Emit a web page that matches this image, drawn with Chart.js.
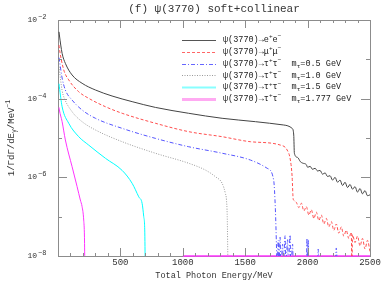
<!DOCTYPE html>
<html>
<head>
<meta charset="utf-8">
<script src="https://cdn.jsdelivr.net/npm/chart.js@4"></script>
<style>
  body { margin: 0; background: #fff; }
</style>
</head>
<body>
<canvas id="c" width="382" height="283"></canvas>
<script>
// photon energy (MeV) and 1/Γ dΓ/dE (MeV^-1)
var eeE = [8, 11, 33, 59, 113, 193, 300, 433, 594, 780, 1047, 1315, 1582, 1809, 1876, 1889, 1894, 1920, 1942, 1960, 1990, 2000, 2020, 2040, 2060, 2080, 2100, 2120, 2140, 2160, 2180, 2200, 2220, 2240, 2260, 2280, 2300, 2320, 2340, 2360, 2380, 2400, 2420, 2440, 2460, 2480, 2500];
var eeV = [5.0e-3, 4.16e-3, 1.42e-3, 7.9e-4, 4.0e-4, 2.46e-4, 1.66e-4, 1.17e-4, 8.4e-5, 6.0e-5, 4.25e-5, 3.17e-5, 2.6e-5, 2.14e-5, 1.76e-5, 1.19e-5, 4.1e-6, 3.2e-6, 2.5e-6, 2.3e-6, 2.1e-6, 1.8e-6, 1.9e-6, 1.6e-6, 1.7e-6, 1.45e-6, 1.5e-6, 1.2e-6, 1.3e-6, 1.05e-6, 1.1e-6, 8.5e-7, 1.0e-6, 7.5e-7, 8.5e-7, 6.2e-7, 7.5e-7, 5.5e-7, 6.6e-7, 5.0e-7, 5.8e-7, 4.2e-7, 5.2e-7, 3.8e-7, 4.6e-7, 3.4e-7, 3.6e-7];

var mmE = [8, 11, 46, 86, 166, 246, 380, 514, 780, 1047, 1315, 1542, 1782, 1836, 1862, 1876, 1884, 1890, 1910, 1930, 1950, 1970, 1990, 2010, 2030, 2050, 2070, 2090, 2110, 2130, 2150, 2170, 2190, 2210, 2230, 2250, 2270, 2290, 2310, 2330, 2350, 2355, 2360, 2380, 2400, 2420, 2440, 2460, 2480, 2500];
var mmV = [2.3e-3, 1.9e-3, 5.4e-4, 3.0e-4, 1.5e-4, 1.02e-4, 6.25e-5, 4.25e-5, 2.37e-5, 1.45e-5, 1.08e-5, 8.05e-6, 6.6e-6, 4.95e-6, 2.75e-6, 1.04e-6, 2.9e-7, 2.6e-7, 2.3e-7, 1.7e-7, 2.2e-7, 1.4e-7, 1.8e-7, 1.1e-7, 1.5e-7, 9e-8, 1.3e-7, 8e-8, 1.1e-7, 6.5e-8, 9e-8, 5.5e-8, 7.5e-8, 4.5e-8, 6.5e-8, 3.8e-8, 5.5e-8, 3.2e-8, 4.5e-8, 2.8e-8, 4e-8, 5e-9, 3.5e-8, 2.2e-8, 3.2e-8, 1.8e-8, 2.8e-8, 1.5e-8, 2.5e-8, 1.3e-8];

var t05E = [8, 11, 33, 59, 113, 193, 300, 514, 780, 1047, 1315, 1542, 1676, 1728, 1742, 1750, 1755, 1765, 1770, 1780, 1785, 1800, 1805, 1820, 1825, 1840, 1845, 1860, 1865, 1880, 1885, 1990, 1995, 2000, 2005, 2010, 2080, 2085, 2090, 2220, 2230, 2240, 2500];
var t05V = [1.1e-3, 9.6e-4, 3.35e-4, 1.66e-4, 9.2e-5, 5.15e-5, 3.17e-5, 1.76e-5, 9.8e-6, 6.0e-6, 4.1e-6, 2.75e-6, 1.7e-6, 8.55e-7, 1.48e-7, 2.1e-8, 5e-9, 2.5e-8, 5e-9, 3e-8, 5e-9, 2e-8, 5e-9, 3.3e-8, 5e-9, 2.6e-8, 5e-9, 3.4e-8, 5e-9, 2e-8, 5e-9, 5e-9, 2.8e-8, 5e-9, 2.6e-8, 5e-9, 5e-9, 1.5e-8, 5e-9, 5e-9, 1.6e-8, 5e-9, 5e-9];

var t10E = [8, 11, 33, 46, 113, 193, 300, 514, 780, 1047, 1181, 1261, 1315, 1341, 1350, 1356, 1362];
var t10V = [6.5e-4, 5.4e-4, 1.6e-4, 1.12e-4, 4.65e-5, 2.6e-5, 1.6e-5, 8.05e-6, 4.1e-6, 2.28e-6, 1.53e-6, 1.04e-6, 7.05e-7, 3.9e-7, 2.65e-7, 1.0e-7, 5e-9];

var t15E = [8, 11, 33, 86, 166, 246, 380, 514, 594, 647, 674, 687, 695, 699];
var t15V = [2.4e-4, 2.0e-4, 6.25e-5, 2.37e-5, 1.08e-5, 6.6e-6, 3.05e-6, 1.5e-6, 7.05e-7, 3.2e-7, 2.18e-7, 1.0e-7, 4.6e-8, 5e-9];

var t17E = [8, 11, 33, 59, 113, 153, 179, 193, 206, 212, 215];
var t17V = [6e-5, 5.15e-5, 2.6e-5, 8.9e-6, 1.86e-6, 5.8e-7, 2.65e-7, 1.8e-7, 8.2e-8, 3e-8, 5e-9];
var t17tailE = [1000, 2500];
var t17tailV = [1e-8, 1e-8];

var xTicks = [500, 1000, 1500, 2000, 2500];
var yTickExp = [-2, -4, -6, -8];

var legendRows = [
  [['ψ(3770)→e', 0], ['+', 1], ['e', 0], ['−', 1]],
  [['ψ(3770)→μ', 0], ['+', 1], ['μ', 0], ['−', 1]],
  [['ψ(3770)→τ', 0], ['+', 1], ['τ', 0], ['−', 1], ['  m', 0], ['τ', -1], ['=0.5 GeV', 0]],
  [['ψ(3770)→τ', 0], ['+', 1], ['τ', 0], ['−', 1], ['  m', 0], ['τ', -1], ['=1.0 GeV', 0]],
  [['ψ(3770)→τ', 0], ['+', 1], ['τ', 0], ['−', 1], ['  m', 0], ['τ', -1], ['=1.5 GeV', 0]],
  [['ψ(3770)→τ', 0], ['+', 1], ['τ', 0], ['−', 1], ['  m', 0], ['τ', -1], ['=1.777 GeV', 0]]
];

function pts(xs, ys) {
  return xs.map(function (x, i) { return { x: x, y: ys[i] }; });
}

var FONT = '"Liberation Mono", "DejaVu Sans Mono", monospace';

var styles = [
  { c: '#444444', dash: [], lw: 1, lc: '#555555', llw: 1 },
  { c: '#ff4d4d', dash: [3, 2], lw: 1, lc: '#ff6666', llw: 1 },
  { c: '#5555ff', dash: [4, 2, 1, 2], lw: 1, lc: '#6666ff', llw: 1 },
  { c: '#9a9a9a', dash: [1, 1.5], lw: 1, lc: '#999999', llw: 1 },
  { c: '#00ffff', dash: [], lw: 1, lc: '#88ffff', llw: 2 },
  { c: '#ff33ff', dash: [], lw: 1, lc: '#ffaaf2', llw: 3 }
];

function rich(ctx, parts, x, y, size, align) {
  var w = 0;
  parts.forEach(function (p) {
    ctx.font = (p[1] ? size * 0.72 : size) + 'px ' + FONT;
    w += ctx.measureText(p[0]).width;
  });
  var cx = align === 'center' ? x - w / 2 : x;
  ctx.textAlign = 'left';
  ctx.textBaseline = 'middle';
  parts.forEach(function (p) {
    var s = p[1] ? size * 0.72 : size;
    ctx.font = s + 'px ' + FONT;
    var dy = p[1] === 1 ? -size * 0.38 : (p[1] === -1 ? size * 0.3 : 0);
    ctx.fillText(p[0], cx, y + dy);
    cx += ctx.measureText(p[0]).width;
  });
}

var framePlugin = {
  id: 'frame',
  beforeDatasetsDraw: function (chart) {
    var ctx = chart.ctx, a = chart.chartArea;
    ctx.save();
    ctx.strokeStyle = '#8c8c8c';
    ctx.lineWidth = 1;
    ctx.strokeRect(Math.round(a.left) + 0.5, Math.round(a.top) + 0.5, Math.round(a.right - a.left), Math.round(a.bottom - a.top));
    ctx.restore();
  },
  afterDraw: function (chart) {
    var ctx = chart.ctx, a = chart.chartArea;
    var xs = chart.scales.x, ys = chart.scales.y;
    ctx.save();
    ctx.strokeStyle = '#8c8c8c';
    ctx.lineWidth = 1;
    ctx.beginPath();
    for (var v = 100; v < 2500; v += 100) {
      var px = Math.round(xs.getPixelForValue(v)) + 0.5;
      var len = v % 500 === 0 ? 8 : 3;
      ctx.moveTo(px, a.bottom); ctx.lineTo(px, a.bottom - len);
      ctx.moveTo(px, a.top); ctx.lineTo(px, a.top + len);
    }
    for (var k = -7; k <= -3; k++) {
      var py = Math.round(ys.getPixelForValue(Math.pow(10, k))) + 0.5;
      var l = k % 2 === 0 ? 9 : 4;
      ctx.moveTo(a.left, py); ctx.lineTo(a.left + l, py);
      ctx.moveTo(a.right, py); ctx.lineTo(a.right - l, py);
    }
    ctx.stroke();

    ctx.fillStyle = '#333';
    ctx.font = '9px ' + FONT;
    ctx.textAlign = 'center';
    ctx.textBaseline = 'middle';
    xTicks.forEach(function (t) {
      ctx.fillText(String(t), xs.getPixelForValue(t), a.bottom + 7);
    });
    yTickExp.forEach(function (e) {
      var py = ys.getPixelForValue(Math.pow(10, e));
      ctx.font = '8px ' + FONT;
      ctx.textAlign = 'right';
      ctx.fillText('10', 37, py);
      ctx.font = '7px ' + FONT;
      ctx.textAlign = 'left';
      ctx.fillText('−' + (-e), 38, py - 3);
    });

    // title and axis titles
    rich(ctx, [['(f) ψ(3770) soft+collinear', 0]], (a.left + a.right) / 2, 9, 11, 'center');
    rich(ctx, [['Total Photon Energy/MeV', 0]], (a.left + a.right) / 2, 276, 8.5, 'center');
    ctx.save();
    ctx.translate(12, (a.top + a.bottom) / 2);
    ctx.rotate(-Math.PI / 2);
    rich(ctx, [['1/ΓdΓ/dE', 0], ['γ', -1], ['/MeV', 0], ['−1', 1]], 0, 0, 9, 'center');
    ctx.restore();

    // legend
    legendRows.forEach(function (row, i) {
      var st = styles[i];
      var y = 40 + i * 11.8;
      ctx.save();
      ctx.strokeStyle = st.lc;
      ctx.lineWidth = st.llw;
      ctx.setLineDash(st.dash);
      ctx.beginPath();
      ctx.moveTo(182, Math.round(y) + 0.5);
      ctx.lineTo(216, Math.round(y) + 0.5);
      ctx.stroke();
      ctx.restore();
      ctx.fillStyle = '#222';
      rich(ctx, row, 223, y, 8.5, 'left');
    });
    ctx.restore();
  }
};

var series = [pts(eeE, eeV), pts(mmE, mmV), pts(t05E, t05V), pts(t10E, t10V), pts(t15E, t15V), pts(t17E, t17V)];
var datasets = series.map(function (d, i) {
  return {
    data: d,
    borderColor: styles[i].c,
    borderWidth: styles[i].lw,
    borderDash: styles[i].dash,
    cubicInterpolationMode: 'monotone',
    pointRadius: 0
  };
});
datasets.push({
  data: pts(t17tailE, t17tailV),
  borderColor: '#ff33ff',
  borderWidth: 1.5,
  pointRadius: 0,
  clip: false
});

new Chart(document.getElementById('c'), {
  type: 'line',
  data: { datasets: datasets },
  options: {
    responsive: false,
    animation: false,
    layout: { padding: { left: 58, right: 12, top: 20, bottom: 27 } },
    plugins: { legend: { display: false }, tooltip: { enabled: false } },
    scales: {
      x: { type: 'linear', min: 0, max: 2500, display: false },
      y: { type: 'logarithmic', min: 1e-8, max: 1e-2, display: false }
    }
  },
  plugins: [framePlugin]
});
</script>
</body>
</html>
